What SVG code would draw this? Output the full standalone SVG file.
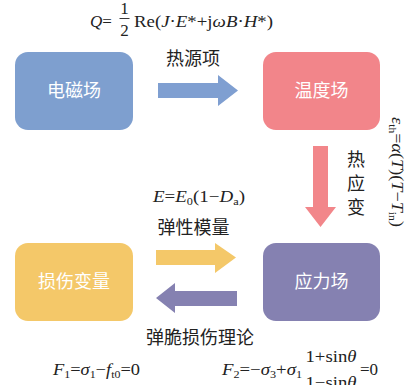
<svg xmlns="http://www.w3.org/2000/svg" width="406" height="385" viewBox="0 0 406 385">
<style>
.box{stroke:none}
.bt{font-family:"Noto Sans CJK SC","Noto Sans",sans-serif;font-size:18px;fill:#fff;text-anchor:middle}
.cn{font-family:"Noto Sans CJK SC","Noto Sans",sans-serif;font-size:18px;fill:#222;text-anchor:middle}
.m{font-family:"Liberation Serif","Times New Roman",serif;font-size:17px;fill:#222}
.i{font-style:italic}
.s{font-size:11px}
</style>
<rect width="406" height="385" fill="#fff"/>
<g id="node-em"><rect class="box" x="15" y="52" width="118" height="78" rx="13" fill="#7E9FCF"/><text class="bt" x="74" y="97">电磁场</text></g>
<g id="node-temp"><rect class="box" x="263" y="52" width="117" height="78" rx="13" fill="#F2858A"/><text class="bt" x="321.5" y="97">温度场</text></g>
<g id="node-damage"><rect class="box" x="15" y="243" width="118" height="78" rx="13" fill="#F4C869"/><text class="bt" x="74" y="288">损伤变量</text></g>
<g id="node-stress"><rect class="box" x="263" y="243" width="117" height="78" rx="13" fill="#8581B1"/><text class="bt" x="321.5" y="288">应力场</text></g>
<g id="connectors">
<polygon points="158,83 218,83 218,75 238,90.5 218,106 218,98 158,98" fill="#7F9FD1"/>
<polygon points="313,146 328,146 328,207 336,207 320.5,227 305,207 313,207" fill="#F2868A"/>
<polygon points="156,250 215,250 215,243 236,257.5 215,273 215,265 156,265" fill="#F4C869"/>
<polygon points="237,291 175,291 175,283 156,298 175,313 175,306 237,306" fill="#8581B1"/>
</g>
<g id="labels">
<text class="m" x="90" y="27"><tspan class="i">Q</tspan>=</text>
<text class="m" x="124.5" y="14" text-anchor="middle">1</text>
<line x1="119.5" y1="18.5" x2="129.5" y2="18.5" stroke="#222" stroke-width="0.9"/>
<text class="m" x="124.5" y="36" text-anchor="middle">2</text>
<text class="m" x="134" y="27" textLength="139" lengthAdjust="spacingAndGlyphs">Re(<tspan class="i">J</tspan>·<tspan class="i">E</tspan>*+j<tspan class="i">ω</tspan><tspan class="i">B</tspan>·<tspan class="i">H</tspan>*)</text>
<text class="cn" x="193" y="65">热源项</text>
<text class="cn" x="356" y="166" font-size="17">热</text>
<text class="cn" x="356" y="190" font-size="17">应</text>
<text class="cn" x="356" y="214" font-size="17">变</text>
<g transform="translate(392,117) rotate(90)"><text class="m" x="0" y="0" font-size="15" textLength="110" lengthAdjust="spacingAndGlyphs"><tspan class="i">ε</tspan><tspan class="s" dy="3">th</tspan><tspan dy="-3">=</tspan><tspan class="i">α</tspan>(<tspan class="i">T</tspan>)(<tspan class="i">T</tspan>−<tspan class="i">T</tspan><tspan class="s" dy="3">in</tspan><tspan dy="-3">)</tspan></text></g>
<text class="m" x="153" y="202" font-size="16" textLength="92" lengthAdjust="spacingAndGlyphs"><tspan class="i">E</tspan>=<tspan class="i">E</tspan><tspan class="s" dy="3">0</tspan><tspan dy="-3">(1−</tspan><tspan class="i">D</tspan><tspan class="s" dy="3">a</tspan><tspan dy="-3">)</tspan></text>
<text class="cn" x="193.5" y="234">弹性模量</text>
<text class="cn" x="200" y="344">弹脆损伤理论</text>
<text class="m" x="53" y="375" font-size="16" textLength="87" lengthAdjust="spacingAndGlyphs"><tspan class="i">F</tspan><tspan class="s" dy="3">1</tspan><tspan dy="-3">=</tspan><tspan class="i">σ</tspan><tspan class="s" dy="3">1</tspan><tspan dy="-3">−</tspan><tspan class="i">f</tspan><tspan class="s" dy="3">t0</tspan><tspan dy="-3">=0</tspan></text>
<text class="m" x="222" y="375" font-size="16" textLength="80" lengthAdjust="spacingAndGlyphs"><tspan class="i">F</tspan><tspan class="s" dy="3">2</tspan><tspan dy="-3">=−</tspan><tspan class="i">σ</tspan><tspan class="s" dy="3">3</tspan><tspan dy="-3">+</tspan><tspan class="i">σ</tspan><tspan class="s" dy="3">1</tspan></text>
<text class="m" x="331" y="362" font-size="17" text-anchor="middle" textLength="51" lengthAdjust="spacingAndGlyphs">1+sin<tspan class="i">θ</tspan></text>
<text class="m" x="331" y="388" font-size="17" text-anchor="middle" textLength="51" lengthAdjust="spacingAndGlyphs">1−sin<tspan class="i">θ</tspan></text>
<text class="m" x="360" y="375" font-size="17">=0</text>
</g>
</svg>
